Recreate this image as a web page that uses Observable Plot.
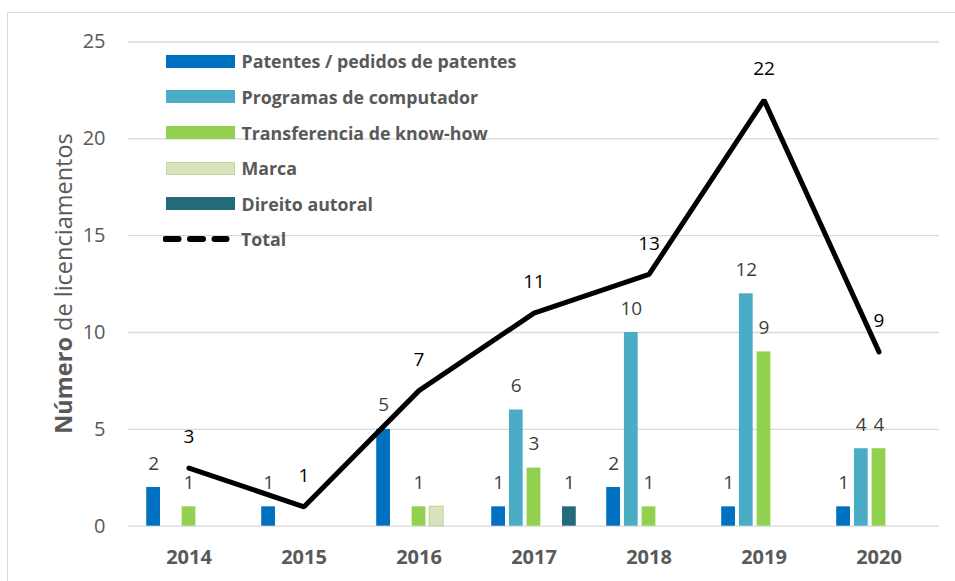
<!DOCTYPE html>
<html><head><meta charset="utf-8">
<script src="https://cdn.jsdelivr.net/npm/d3@7"></script>
<script src="https://cdn.jsdelivr.net/npm/@observablehq/plot@0.6"></script>
<style>
body{margin:0;background:#fff;}
#wrap{position:relative;width:955px;height:581px;overflow:hidden;font-family:"Open Sans",sans-serif;}
#frame{position:absolute;left:7px;top:12px;right:-5px;bottom:-5px;border:1px solid #d9d9d9;pointer-events:none;}
.row{position:absolute;display:flex;align-items:center;height:20px;font-weight:bold;font-size:17.8px;color:#595959;white-space:nowrap;}
.sw{width:69px;height:13px;box-sizing:border-box;margin-right:7px;}
</style></head><body><div id="wrap"></div>
<script>
const years = ["2014","2015","2016","2017","2018","2019","2020"];
const seriesNames = ["Patentes / pedidos de patentes","Programas de computador","Transferencia de know-how","Marca","Direito autoral"];
const seriesColors = ["#0070C0","#4BACC6","#92D050","#D7E4BD","#256A7A"];
const seriesStrokes = ["none","none","none","#C3D69B","none"];
const seriesShowLabels = [true, true, true, false, true];
const patentes = [2,1,5,1,2,1,1];
const programas = [0,0,0,6,10,12,4];
const transferencia = [1,0,1,3,1,9,4];
const marca = [0,0,1,0,0,0,0];
const direito = [0,0,0,1,0,0,0];
const total = [3,1,7,11,13,22,9];
const totalName = "Total";
const yTicks = [0,5,10,15,20,25];
const yTitleBold = "Número";
const yTitleRest = " de licenciamentos";

const seriesValues = [patentes, programas, transferencia, marca, direito];
const step = 17.7;
const barW = 14.6;
const bandW = (955 - 128 - 16) / years.length;
const inset = (bandW - barW) / 2;

const marks = [
  Plot.ruleY(yTicks, {stroke: "#d9d9d9", strokeWidth: 1.3}),
  Plot.axisY({ticks: yTicks, tickSize: 0, tickPadding: 23, fontSize: 20, fill: "#595959", label: null}),
  Plot.axisX({tickSize: 0, tickPadding: 24, fontSize: 20, fontWeight: "bold", fill: "#595959", label: null})
];
seriesValues.forEach((vals, i) => {
  const data = years.map((y, j) => ({year: y, value: vals[j]})).filter(d => d.value > 0);
  const dx = (i - 2) * step;
  marks.push(Plot.barY(data, {x: "year", y: "value", fill: seriesColors[i],
    stroke: seriesStrokes[i] === "none" ? null : seriesStrokes[i], strokeWidth: 1.2,
    insetLeft: inset, insetRight: inset, dx}));
  if (seriesShowLabels[i]) {
    marks.push(Plot.text(data, {x: "year", y: "value", text: d => String(d.value), dx, dy: -24,
      fontSize: 19, fill: "#404040"}));
  }
});
const totalData = years.map((y, j) => ({year: y, total: total[j]}));
marks.push(Plot.line(totalData, {x: "year", y: "total", stroke: "#000", strokeWidth: 5, strokeLinejoin: "miter"}));
marks.push(Plot.text(totalData, {x: "year", y: "total", text: d => String(d.total), dy: -31, fontSize: 19, fill: "#000"}));

const chart = Plot.plot({
  width: 955, height: 581,
  marginTop: 41.5, marginBottom: 55.3, marginLeft: 128, marginRight: 16,
  style: {fontFamily: "Open Sans", background: "transparent", overflow: "visible"},
  x: {type: "band", domain: years, padding: 0, axis: null},
  y: {domain: [0, 25], axis: null},
  marks
});

const wrap = document.getElementById("wrap");
wrap.appendChild(chart);

// y title with bold first word
const t = d3.select(chart).append("text")
  .attr("transform", "translate(72,283.5) rotate(-90)")
  .attr("text-anchor", "middle")
  .attr("font-size", 23.5)
  .attr("fill", "#595959")
  .attr("font-family", "Open Sans");
t.append("tspan").attr("font-weight", "bold").text(yTitleBold);
t.append("tspan").text(yTitleRest);

const frame = document.createElement("div");
frame.id = "frame";
wrap.appendChild(frame);

// legend
const rowTop0 = 61.3, rowStep = 35.6;
seriesNames.forEach((name, i) => {
  const row = document.createElement("div");
  row.className = "row";
  row.style.left = "165.5px";
  row.style.top = (rowTop0 + i * rowStep - 10) + "px";
  const sw = document.createElement("div");
  sw.className = "sw";
  sw.style.background = seriesColors[i];
  if (seriesStrokes[i] !== "none") sw.style.border = "1.5px solid " + seriesStrokes[i];
  row.appendChild(sw);
  const tx = document.createElement("span");
  tx.textContent = name;
  row.appendChild(tx);
  wrap.appendChild(row);
});
{
  const i = seriesNames.length;
  const row = document.createElement("div");
  row.className = "row";
  row.style.left = "163px";
  row.style.top = (rowTop0 + i * rowStep - 10) + "px";
  row.innerHTML = '<svg width="78" height="20" style="margin-right:0"><line x1="2.5" x2="63.5" y1="10" y2="10" stroke="#000" stroke-width="6" stroke-linecap="round" stroke-dasharray="13 11.5"/></svg>';
  const tx = document.createElement("span");
  tx.textContent = totalName;
  row.appendChild(tx);
  wrap.appendChild(row);
}
</script>
</body></html>
